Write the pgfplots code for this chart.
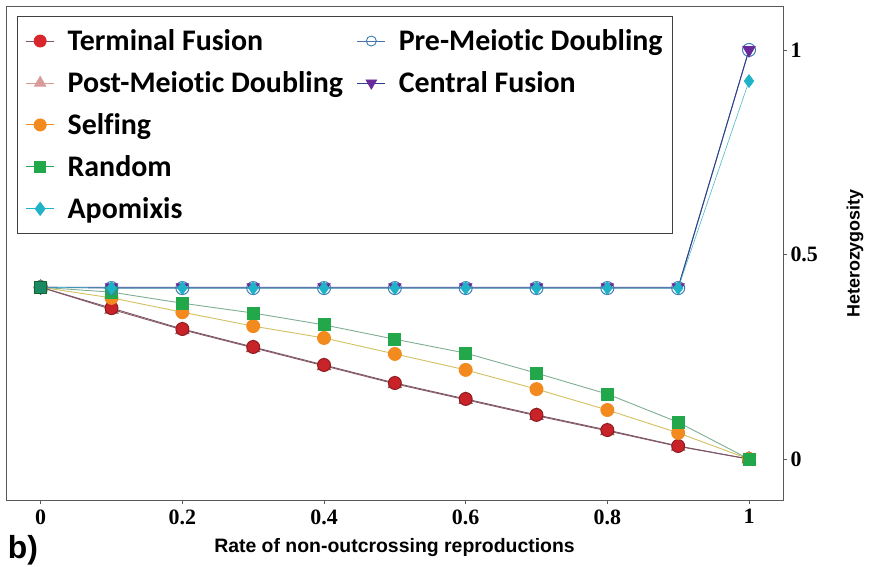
\documentclass[border=0pt]{standalone}
\usepackage{pgfplots}
\pgfplotsset{compat=1.18}
\usepackage{fontspec}
\setmainfont{Liberation Serif}
\newfontfamily\carlito[Ligatures=NoCommon]{Carlito}
\newfontfamily\arial{Liberation Sans}
\definecolor{tfM}{HTML}{D8262C}
\definecolor{tfL}{HTML}{7A5468}
\definecolor{pmM}{HTML}{D99A9A}
\definecolor{pmL}{HTML}{8A5A60}
\definecolor{sfM}{HTML}{F28A1E}
\definecolor{sfL}{HTML}{D2C060}
\definecolor{rdM}{HTML}{22A84A}
\definecolor{rdL}{HTML}{7FAE92}
\definecolor{apM}{HTML}{1FB3C8}
\definecolor{apL}{HTML}{4FB8C8}
\definecolor{prM}{HTML}{3C7EB2}
\definecolor{prL}{HTML}{4A72A8}
\definecolor{cfM}{HTML}{6A2A9A}
\definecolor{cfL}{HTML}{2F3F8A}
\begin{document}
\begin{tikzpicture}
\begin{axis}[
  scale only axis, width=777bp, height=493bp,
  xmin=-0.049, xmax=1.048, ymin=-0.1, ymax=1.105,
  axis line style={draw=black!65, line width=1bp},
  xtick={0,0.2,0.4,0.6,0.8,1},
  xticklabels={0,0.2,0.4,0.6,0.8,1},
  ytick={0,0.5,1},
  yticklabels={0,0.5,1},
  xtick pos=bottom, ytick pos=right, yticklabel pos=right,
  tick align=outside, major tick length=4bp,
  tick style={draw=black!65, line width=0.8bp},
  tick label style={font=\fontsize{22}{22}\selectfont\bfseries},
  xticklabel style={yshift=-2bp},
  xlabel={Rate of non-outcrossing reproductions},
  xlabel style={at={(axis description cs:0.5,0)}, anchor=center, yshift=-48bp, font=\arial\bfseries\fontsize{19.5}{19.5}\selectfont},
  clip=false,
  legend style={at={(axis cs:-0.033,1.082)}, anchor=north west, draw=black!75, line width=0.8bp,
    font=\carlito\bfseries\fontsize{30}{32}\selectfont, inner xsep=8bp, inner ysep=11bp,
    row sep=15.5bp, column sep=0bp,
    /tikz/every odd column/.append style={column sep=11bp},
    /tikz/every even column/.append style={column sep=12bp}},
  legend columns=2, legend cell align=left,
  legend image code/.code={\draw[mark repeat=2,mark phase=2,#1] plot coordinates {(0bp,0bp)(14bp,0bp)(28bp,0bp)};},
  every axis plot/.append style={line width=0.9bp},
]
% legend entries (row-wise: col1, col2)
\addlegendimage{tfL, mark=*, mark size=6bp, mark options={fill=tfM, draw=tfM}}
\addlegendentry{Terminal Fusion}
\addlegendimage{prL, mark=o, mark size=5bp, mark options={draw=prM, line width=0.9bp}}
\addlegendentry{Pre-Meiotic Doubling}
\addlegendimage{pmM, mark=triangle*, mark size=6.5bp, mark options={fill=pmM, draw=pmM}}
\addlegendentry{Post-Meiotic Doubling}
\addlegendimage{cfL, mark=triangle*, mark size=6bp, mark options={rotate=180, fill=cfM, draw=cfM}}
\addlegendentry{Central Fusion}
\addlegendimage{sfM, mark=*, mark size=6bp, mark options={fill=sfM, draw=sfM}}
\addlegendentry{Selfing}
\addlegendimage{empty legend}
\addlegendentry{}
\addlegendimage{rdM, mark=square*, mark size=5.5bp, mark options={fill=rdM, draw=rdM}}
\addlegendentry{Random}
\addlegendimage{empty legend}
\addlegendentry{}
\addlegendimage{apM, mark=diamond*, mark size=6.5bp, mark options={fill=apM, draw=apM}}
\addlegendentry{Apomixis}
% data
% Post-Meiotic Doubling
\addplot[forget plot, pmL, mark=triangle*, mark size=7.5bp, mark options={fill=pmL!70!tfM, draw=pmL}] coordinates {
(0,0.42)(0.1,0.366)(0.2,0.316)(0.3,0.272)(0.4,0.228)(0.5,0.184)(0.6,0.145)(0.7,0.106)(0.8,0.069)(0.9,0.031)(1,0)};
% Terminal Fusion
\addplot[forget plot, tfL, mark=*, mark size=6.5bp, mark options={fill=tfM!92!black, draw=tfM!65!black}] coordinates {
(0,0.42)(0.1,0.369)(0.2,0.318)(0.3,0.274)(0.4,0.230)(0.5,0.186)(0.6,0.147)(0.7,0.108)(0.8,0.071)(0.9,0.032)(1,0)};
% Selfing
\addplot[forget plot, sfL, mark=*, mark size=6.5bp, mark options={fill=sfM, draw=sfM}] coordinates {
(0,0.42)(0.1,0.394)(0.2,0.359)(0.3,0.325)(0.4,0.296)(0.5,0.257)(0.6,0.218)(0.7,0.171)(0.8,0.120)(0.9,0.064)(1,0)};
% Random
\addplot[forget plot, rdL, mark=square*, mark size=6bp, mark options={fill=rdM, draw=rdM}] coordinates {
(0,0.42)(0.1,0.408)(0.2,0.381)(0.3,0.357)(0.4,0.328)(0.5,0.293)(0.6,0.259)(0.7,0.210)(0.8,0.159)(0.9,0.090)(1,0)};
% Pre-Meiotic Doubling
\addplot[forget plot, prL, mark=o, mark size=6.5bp, mark options={draw=prM, line width=1bp}] coordinates {
(0,0.42)(0.1,0.418)(0.2,0.418)(0.3,0.418)(0.4,0.418)(0.5,0.418)(0.6,0.418)(0.7,0.418)(0.8,0.418)(0.9,0.418)(1,1.0)};
% Central Fusion
\addplot[forget plot, cfL, mark=triangle*, mark size=7bp, mark options={rotate=180, fill=cfM, draw=cfM}] coordinates {
(0,0.42)(0.1,0.42)(0.2,0.42)(0.3,0.42)(0.4,0.42)(0.5,0.42)(0.6,0.42)(0.7,0.42)(0.8,0.42)(0.9,0.42)(1,1.0)};
% Apomixis
\addplot[forget plot, apL, line width=0.6bp, mark=diamond*, mark size=6.5bp, mark options={fill=apM, draw=apM}] coordinates {
(0,0.42)(0.1,0.418)(0.2,0.418)(0.3,0.418)(0.4,0.418)(0.5,0.418)(0.6,0.418)(0.7,0.418)(0.8,0.418)(0.9,0.418)(1,0.924)};
% Random first point on top
\addplot[forget plot, only marks, mark=square*, mark size=6bp, mark options={fill=rdM!60!apM!80!black, draw=rdM!60!black}] coordinates {(0,0.42)};
\end{axis}
\node[font=\arial\bfseries\fontsize{18}{18}\selectfont, rotate=90, anchor=center] at ([xshift=72bp]current axis.east) {Heterozygosity};
\node[font=\arial\bfseries\fontsize{32}{32}\selectfont] at ([xshift=17bp,yshift=-50bp]current axis.south west) {b)};
\pgfresetboundingbox
\path[use as bounding box] ([xshift=-6bp,yshift=-67bp]current axis.south west) rectangle ([xshift=86bp,yshift=7bp]current axis.north east);
\end{tikzpicture}
\end{document}
